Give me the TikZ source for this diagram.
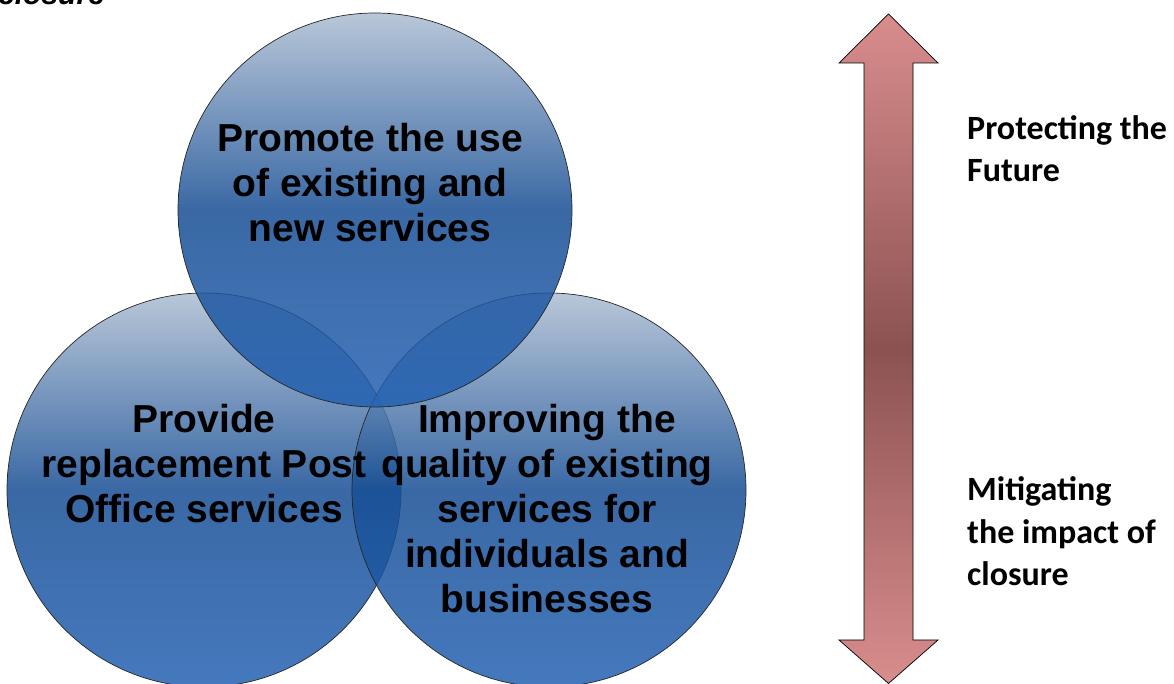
\documentclass[tikz,border=0pt]{standalone}
\usepackage{fontspec}
\setmainfont{Liberation Sans}
\newfontfamily\calibri{Carlito}
\usetikzlibrary{positioning}

\definecolor{bubbletop}{HTML}{ADBDD2}
\definecolor{bubblemid}{HTML}{174E94}
\definecolor{bubblebot}{HTML}{2461B2}
\definecolor{arrowend}{HTML}{D98D8D}
\definecolor{arrowmid}{HTML}{8C5252}

\begin{document}
\begin{tikzpicture}[x=1pt,y=1pt,
        bubble/.style = {draw=black!85, line width=0.7pt, circle, minimum size=394pt, inner sep=0pt,
            top color=bubbletop, bottom color=bubblebot, middle color=bubblemid, fill opacity=0.85},
        bubbletext/.style = {align=center, inner sep=0pt, anchor=base,
            font=\fontsize{39}{45}\selectfont\bfseries},
        sidetext/.style = {align=left, inner sep=0pt, anchor=base west,
            font=\calibri\fontsize{34}{42.5}\selectfont\bfseries}]
    \useasboundingbox (0,0) rectangle (1174,684);
    % the three circles
    \node[bubble] (provide) at (204,194) {};
    \node[bubble] (improve) at (549,194) {};
    \node[bubble] (promote) at (375,474) {};
    \node[bubbletext] (promote_txt) at ([xshift=-5,yshift=-32]promote.center) {Promote the use\\of existing and\\new services};
    \node[bubbletext] (provide_txt) at ([yshift=-33]provide.center) {Provide\\replacement Post\\Office services};
    \node[bubbletext] (improve_txt) at ([xshift=-2,yshift=-123]improve.center) {Improving the\\quality of existing\\services for\\individuals and\\businesses};
    % double arrow on the right
    \draw[black, line width=0.7pt, top color=arrowend, bottom color=arrowend, middle color=arrowmid]
        (888.5,670) -- (938,621) -- (913,621) -- (913,44) -- (938,44) -- (888.5,0.5)
        -- (839,44) -- (864,44) -- (864,621) -- (839,621) -- cycle;
    \node[sidetext] (future)   at (967,502) {Protecting the\\Future};
    \node[sidetext] (mitigate) at (967,98) {Mitigating\\the impact of\\closure};
    % caption cut off at the top
    \node[anchor=base west, inner sep=0pt, font=\fontsize{30}{36}\selectfont\bfseries\itshape] (caption) at (-2,679) {closure};
\end{tikzpicture}
\end{document}
